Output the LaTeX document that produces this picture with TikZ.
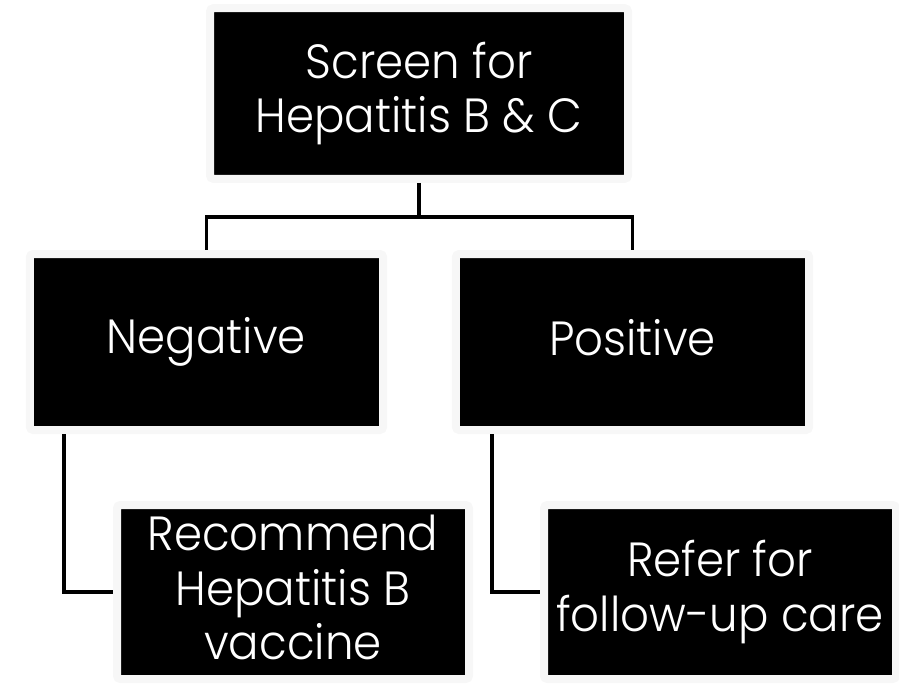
\documentclass[tikz,border=0pt]{standalone}
\usepackage{fontspec}
\setmainfont{Poppins}[UprightFont={* Light}, FakeStretch=0.94]
\usetikzlibrary{shadows}
\definecolor{boxrim}{HTML}{F7F7F7}
\newcommand{\capstrut}{\rule[-7pt]{0pt}{33pt}}
\tikzset{
  box/.style={fill=black, draw=boxrim, line width=6pt, rounded corners=2.5pt,
    text=white, align=center, inner sep=0pt,
    font=\fontsize{36}{41}\selectfont,
    drop shadow={shadow xshift=1.5pt, shadow yshift=-1.5pt, opacity=.35}},
  link/.style={line width=2.4pt, draw=black}
}
\begin{document}
\begin{tikzpicture}[x=0.75pt,y=0.75pt,yscale=-1,xscale=1]
    \useasboundingbox (0,0) rectangle (899,685);

    % boxes
    \node [box, minimum width=313.5pt, minimum height=128pt] (screen) at (419,93.5) {\capstrut Screen for\\\capstrut Hepatitis B \& C};
    \node [box, minimum width=265pt, minimum height=132pt] (neg) at (206.5,342) {\capstrut Negative};
    \node [box, minimum width=265pt, minimum height=132pt] (pos) at (632.5,342) {\capstrut Positive};
    \node [box, minimum width=264pt, minimum height=130.5pt] (rec) at (293,592) {\capstrut Recommend\\\capstrut Hepatitis B\\\capstrut vaccine};
    \node [box, minimum width=264pt, minimum height=130.5pt] (ref) at (720,592) {\capstrut Refer for\\\capstrut follow-up care};

    % connectors
    \coordinate (split) at (419,217);
    \coordinate (negfoot) at (64,434);
    \coordinate (posfoot) at (492,434);
    \draw [link] (screen.south) -- (split);
    \draw [link] (split) -| (neg.north);
    \draw [link] (split) -| (pos.north);
    \draw [link] (negfoot) |- (rec.west);
    \draw [link] (posfoot) |- (ref.west);
\end{tikzpicture}
\end{document}
